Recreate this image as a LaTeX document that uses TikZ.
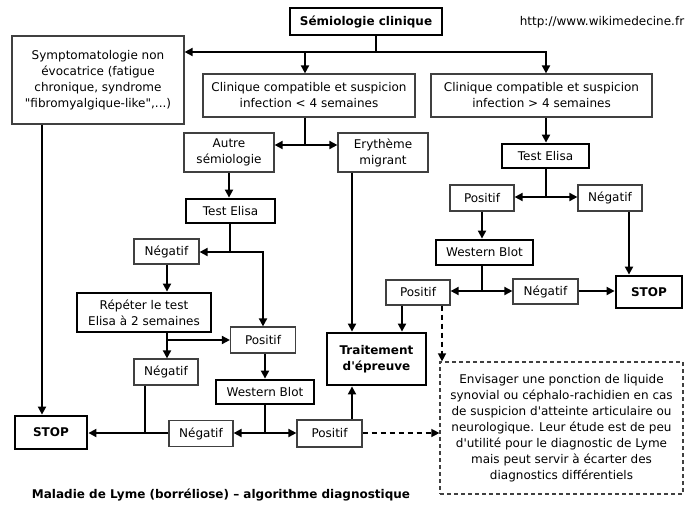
\documentclass[tikz,border=0pt]{standalone}
\usepackage{fontspec}
\newfontfamily\vf{DejaVu Sans}
\usetikzlibrary{arrows.meta,calc}
\begin{document}
\begin{tikzpicture}[x=1pt,y=-1pt,
  base/.style={font=\vf\fontsize{12}{16}\selectfont, align=center, inner sep=0pt, text=black},
  thin/.style={base, draw=black!75, line width=1.2pt, fill=white},
  thick/.style={base, draw=black, line width=2.8pt, fill=white},
  dbox/.style={base, draw=black!75, line width=1.2pt, dashed, dash pattern=on 4pt off 3pt},
  bf/.style={font=\vf\bfseries\fontsize{12}{16}\selectfont},
  conn/.style={draw=black, line width=1.8pt},
  arr/.style={conn, -{Triangle[length=8pt,width=8pt]}},
  darr/.style={arr, line width=1.4pt, dash pattern=on 5pt off 4pt}
]
\useasboundingbox (0,0) rectangle (700,514);
\fill[white] (0,0) rectangle (700,514);

% nodes
\node[thick,bf,minimum width=152pt,minimum height=27pt] (sem) at (366,21.5) {Sémiologie clinique};
\node[base] (url) at (602,22) {http://www.wikimedecine.fr};
\node[thin,minimum width=172pt,minimum height=88pt] (sym) at (98,80) {Symptomatologie non\\évocatrice (fatigue\\chronique, syndrome\\"fibromyalgique-like",...)};
\node[thin,minimum width=212pt,minimum height=43pt] (c4) at (309,95.5) {Clinique compatible et suspicion\\infection < 4 semaines};
\node[thin,minimum width=221pt,minimum height=43pt] (c4p) at (541.5,95.5) {Clinique compatible et suspicion\\infection > 4 semaines};
\node[thin,minimum width=90pt,minimum height=39pt] (aut) at (229,152.5) {Autre\\sémiologie};
\node[thin,minimum width=90pt,minimum height=39pt] (ery) at (383,152.5) {Erythème\\migrant};
\node[thick,minimum width=89pt,minimum height=24pt] (te1) at (230.5,211) {Test Elisa};
\node[thin,minimum width=65pt,minimum height=25pt] (neg1) at (166.5,251.5) {Négatif};
\node[thick,minimum width=134pt,minimum height=39pt] (rep) at (144,312.5) {Répéter le test\\Elisa à 2 semaines};
\node[thin,minimum width=64pt,minimum height=26pt] (neg2) at (166,372) {Négatif};
\node[thin,minimum width=65pt,minimum height=26pt] (pos1) at (263,340) {Positif};
\node[thick,minimum width=98pt,minimum height=24pt] (wb1) at (265,392) {Western Blot};
\node[thin,minimum width=64pt,minimum height=26pt] (neg3) at (201,433.5) {Négatif};
\node[thin,minimum width=65pt,minimum height=27pt] (pos3) at (329.5,433.5) {Positif};
\node[thick,bf,minimum width=72pt,minimum height=33pt] (stop1) at (51,432.5) {STOP};
\node[thick,bf,minimum width=99pt,minimum height=52pt] (trt) at (376.5,359) {Traitement\\d'épreuve};
\node[thin,minimum width=64pt,minimum height=25pt] (pos4) at (418,292.5) {Positif};
\node[dbox,minimum width=243pt,minimum height=132pt] (db) at (561.5,428) {Envisager une ponction de liquide\\synovial ou céphalo-rachidien en cas\\de suspicion d'atteinte articulaire ou\\neurologique. Leur étude est de peu\\d'utilité pour le diagnostic de Lyme\\mais peut servir à écarter des\\diagnostics différentiels};
\node[thick,minimum width=87pt,minimum height=24pt] (te2) at (545.5,156) {Test Elisa};
\node[thin,minimum width=64pt,minimum height=26pt] (pos5) at (482,198) {Positif};
\node[thin,minimum width=64pt,minimum height=26pt] (neg5) at (610,198) {Négatif};
\node[thick,minimum width=97pt,minimum height=25pt] (wb2) at (484.5,252.5) {Western Blot};
\node[thin,minimum width=65pt,minimum height=25pt] (neg6) at (545.5,291.5) {Négatif};
\node[thick,bf,minimum width=66pt,minimum height=32pt] (stop2) at (649,292) {STOP};
\node[base,bf] (title) at (221,495) {Maladie de Lyme (borréliose) – algorithme diagnostique};

% junction coordinates
\coordinate (j1) at (376,52);
\coordinate (a305) at (305,52);
\coordinate (a546) at (546,52);
\coordinate (j2) at (305,145);
\coordinate (j3) at (230,252);
\coordinate (j4) at (167,340);
\coordinate (j5) at (265,433);
\coordinate (j6) at (546,197);
\coordinate (j7) at (482,291);
\coordinate (x42) at (42,0);
\coordinate (x145) at (145,0);
\coordinate (x352) at (352,0);
\coordinate (x402) at (402,0);
\coordinate (x442) at (442,0);
\coordinate (x629) at (629,0);

% connectors
\draw[conn] (j1 |- sem.south) -- (j1);
\draw[arr] (j1) -- (j1 -| sym.east);
\draw[arr] (j1) -- (a546) -- (a546 |- c4p.north);
\draw[arr] (a305) -- (a305 |- c4.north);
\draw[conn] (j2 |- c4.south) -- (j2);
\draw[arr] (j2) -- (j2 -| aut.east);
\draw[arr] (j2) -- (j2 -| ery.west);
\draw[arr] (aut.south) -- (aut.south |- te1.north);
\draw[conn] (j3 |- te1.south) -- (j3);
\draw[arr] (j3) -- (j3 -| neg1.east);
\draw[arr] (j3) -| (pos1.north);
\draw[arr] (neg1.south -| j4) -- (j4 |- rep.north);
\draw[conn] (j4 |- rep.south) -- (j4);
\draw[arr] (j4) -- (j4 -| pos1.west);
\draw[arr] (j4) -- (j4 |- neg2.north);
\draw[arr] (pos1.south -| j5) -- (j5 |- wb1.north);
\draw[conn] (j5 |- wb1.south) -- (j5);
\draw[arr] (j5) -- (j5 -| neg3.east);
\draw[arr] (j5) -- (j5 -| pos3.west);
\draw[arr] (j5 -| neg3.west) -- (j5 -| stop1.east);
\draw[conn] (x145 |- neg2.south) -- (x145 |- j5);
\draw[arr] (x42 |- sym.south) -- (x42 |- stop1.north);
\draw[arr] (x352 |- ery.south) -- (x352 |- trt.north);
\draw[arr] (x352 |- pos3.north) -- (x352 |- trt.south);
\draw[arr] (x402 |- pos4.south) -- (x402 |- trt.north);
\draw[darr] (x442 |- pos4.south) -- (x442 |- db.north);
\draw[darr] (j5 -| pos3.east) -- (j5 -| db.west);
\draw[arr] (a546 |- c4p.south) -- (a546 |- te2.north);
\draw[conn] (j6 |- te2.south) -- (j6);
\draw[arr] (j6) -- (j6 -| pos5.east);
\draw[arr] (j6) -- (j6 -| neg5.west);
\draw[arr] (j7 |- pos5.south) -- (j7 |- wb2.north);
\draw[conn] (j7 |- wb2.south) -- (j7);
\draw[arr] (j7) -- (j7 -| pos4.east);
\draw[arr] (j7) -- (j7 -| neg6.west);
\draw[arr] (j7 -| neg6.east) -- (j7 -| stop2.west);
\draw[arr] (x629 |- neg5.south) -- (x629 |- stop2.north);
\end{tikzpicture}
\end{document}
